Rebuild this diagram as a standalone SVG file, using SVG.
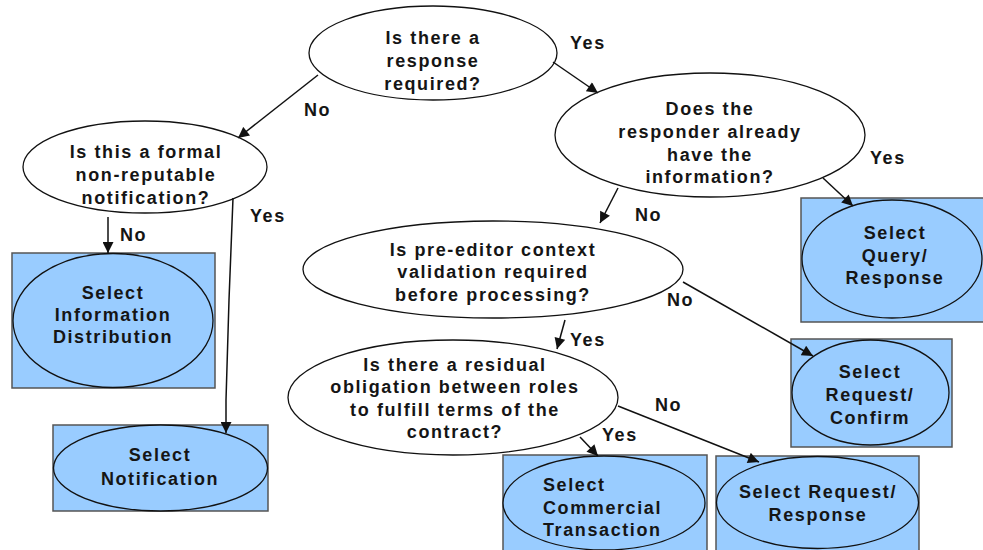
<svg xmlns="http://www.w3.org/2000/svg" width="983" height="550" viewBox="0 0 983 550">
<style>
.q{fill:#fff;stroke:#111;stroke-width:1.3}
.box{fill:#99ccff;stroke:#555;stroke-width:1.5}
.oe{fill:#99ccff;stroke:#111;stroke-width:1.3}
text{font-family:"Liberation Sans",Arial,sans-serif;font-weight:bold;font-size:18px;fill:#151515;letter-spacing:1.6px}
.c{text-anchor:middle}
.lbl{font-size:18px}
.con line,.con path{stroke:#111;stroke-width:1.5;fill:none;marker-end:url(#ah)}
</style>
<defs>
<marker id="ah" viewBox="0 0 10 10" refX="10" refY="5" markerWidth="13" markerHeight="11" markerUnits="userSpaceOnUse" orient="auto">
<path d="M0,0 L10,5 L0,10 z" fill="#111"/>
</marker>
</defs>
<rect width="983" height="550" fill="#fff"/>

<g id="q-response">
<ellipse class="q" cx="433" cy="53" rx="124" ry="47"/>
<text class="c" x="433" y="44">Is there a</text>
<text class="c" x="433" y="67">response</text>
<text class="c" x="433" y="90">required?</text>
</g>

<g id="q-formal">
<ellipse class="q" cx="145" cy="167" rx="122" ry="46"/>
<text class="c" x="146" y="158">Is this a formal</text>
<text class="c" x="146" y="181">non-reputable</text>
<text class="c" x="146" y="204">notification?</text>
</g>

<g id="q-responder">
<ellipse class="q" cx="710" cy="135" rx="155" ry="62"/>
<text class="c" x="710" y="115">Does the</text>
<text class="c" x="710" y="138">responder already</text>
<text class="c" x="710" y="161">have the</text>
<text class="c" x="710" y="183">information?</text>
</g>

<g id="q-preeditor">
<ellipse class="q" cx="493" cy="269.5" rx="190" ry="48.5"/>
<text class="c" x="493" y="256">Is pre-editor context</text>
<text class="c" x="493" y="278">validation required</text>
<text class="c" x="493" y="301">before processing?</text>
</g>

<g id="q-residual">
<ellipse class="q" cx="453" cy="397.5" rx="165" ry="57.5"/>
<text class="c" x="455" y="371">Is there a residual</text>
<text class="c" x="455" y="393">obligation between roles</text>
<text class="c" x="455" y="416">to fulfill terms of the</text>
<text class="c" x="455" y="438">contract?</text>
</g>

<g id="s-infodist">
<rect class="box" x="12" y="253" width="203" height="135"/>
<ellipse class="oe" cx="113" cy="320.5" rx="100" ry="67"/>
<text class="c" x="113" y="299">Select</text>
<text class="c" x="113" y="321">Information</text>
<text class="c" x="113" y="343">Distribution</text>
</g>

<g id="s-notification">
<rect class="box" x="53" y="425" width="215" height="86"/>
<ellipse class="oe" cx="160.5" cy="468" rx="107" ry="43"/>
<text class="c" x="160" y="461">Select</text>
<text class="c" x="160" y="485">Notification</text>
</g>

<g id="s-query">
<rect class="box" x="801" y="198" width="190" height="124"/>
<ellipse class="oe" cx="892" cy="259" rx="90" ry="59"/>
<text class="c" x="895" y="239">Select</text>
<text class="c" x="895" y="262">Query/</text>
<text class="c" x="895" y="284">Response</text>
</g>

<g id="s-reqconfirm">
<rect class="box" x="791" y="339" width="161" height="108"/>
<ellipse class="oe" cx="870.5" cy="392.5" rx="78.5" ry="52.5"/>
<text class="c" x="870" y="378">Select</text>
<text class="c" x="870" y="401">Request/</text>
<text class="c" x="870" y="424">Confirm</text>
</g>

<g id="s-commercial">
<rect class="box" x="503" y="455" width="204" height="100"/>
<ellipse class="oe" cx="604" cy="503" rx="101" ry="47"/>
<text x="543" y="491">Select</text>
<text x="543" y="514">Commercial</text>
<text x="543" y="536">Transaction</text>
</g>

<g id="s-reqresponse">
<rect class="box" x="716" y="456" width="203" height="100"/>
<ellipse class="oe" cx="817.5" cy="502.5" rx="101" ry="46"/>
<text class="c" x="818" y="498">Select Request/</text>
<text class="c" x="818" y="521">Response</text>
</g>

<g id="connectors" class="con">
<line x1="318" y1="75" x2="238" y2="138"/>
<line x1="553" y1="62" x2="598" y2="93"/>
<line x1="108" y1="217" x2="108" y2="253"/>
<path d="M233,198 L229,300 L226,400 L226,433"/>
<line x1="823" y1="178" x2="853" y2="206"/>
<line x1="618" y1="188" x2="600" y2="223"/>
<line x1="683" y1="282" x2="813" y2="356"/>
<line x1="565" y1="320" x2="557" y2="349"/>
<line x1="580" y1="437" x2="598" y2="456"/>
<line x1="618" y1="406" x2="759" y2="462"/>
</g>

<g id="labels">
<text x="570" y="49">Yes</text>
<text x="304" y="116">No</text>
<text x="120" y="241">No</text>
<text x="250" y="222">Yes</text>
<text x="870" y="164">Yes</text>
<text x="635" y="221">No</text>
<text x="667" y="306">No</text>
<text x="570" y="346">Yes</text>
<text x="655" y="411">No</text>
<text x="602" y="441">Yes</text>
</g>
</svg>
